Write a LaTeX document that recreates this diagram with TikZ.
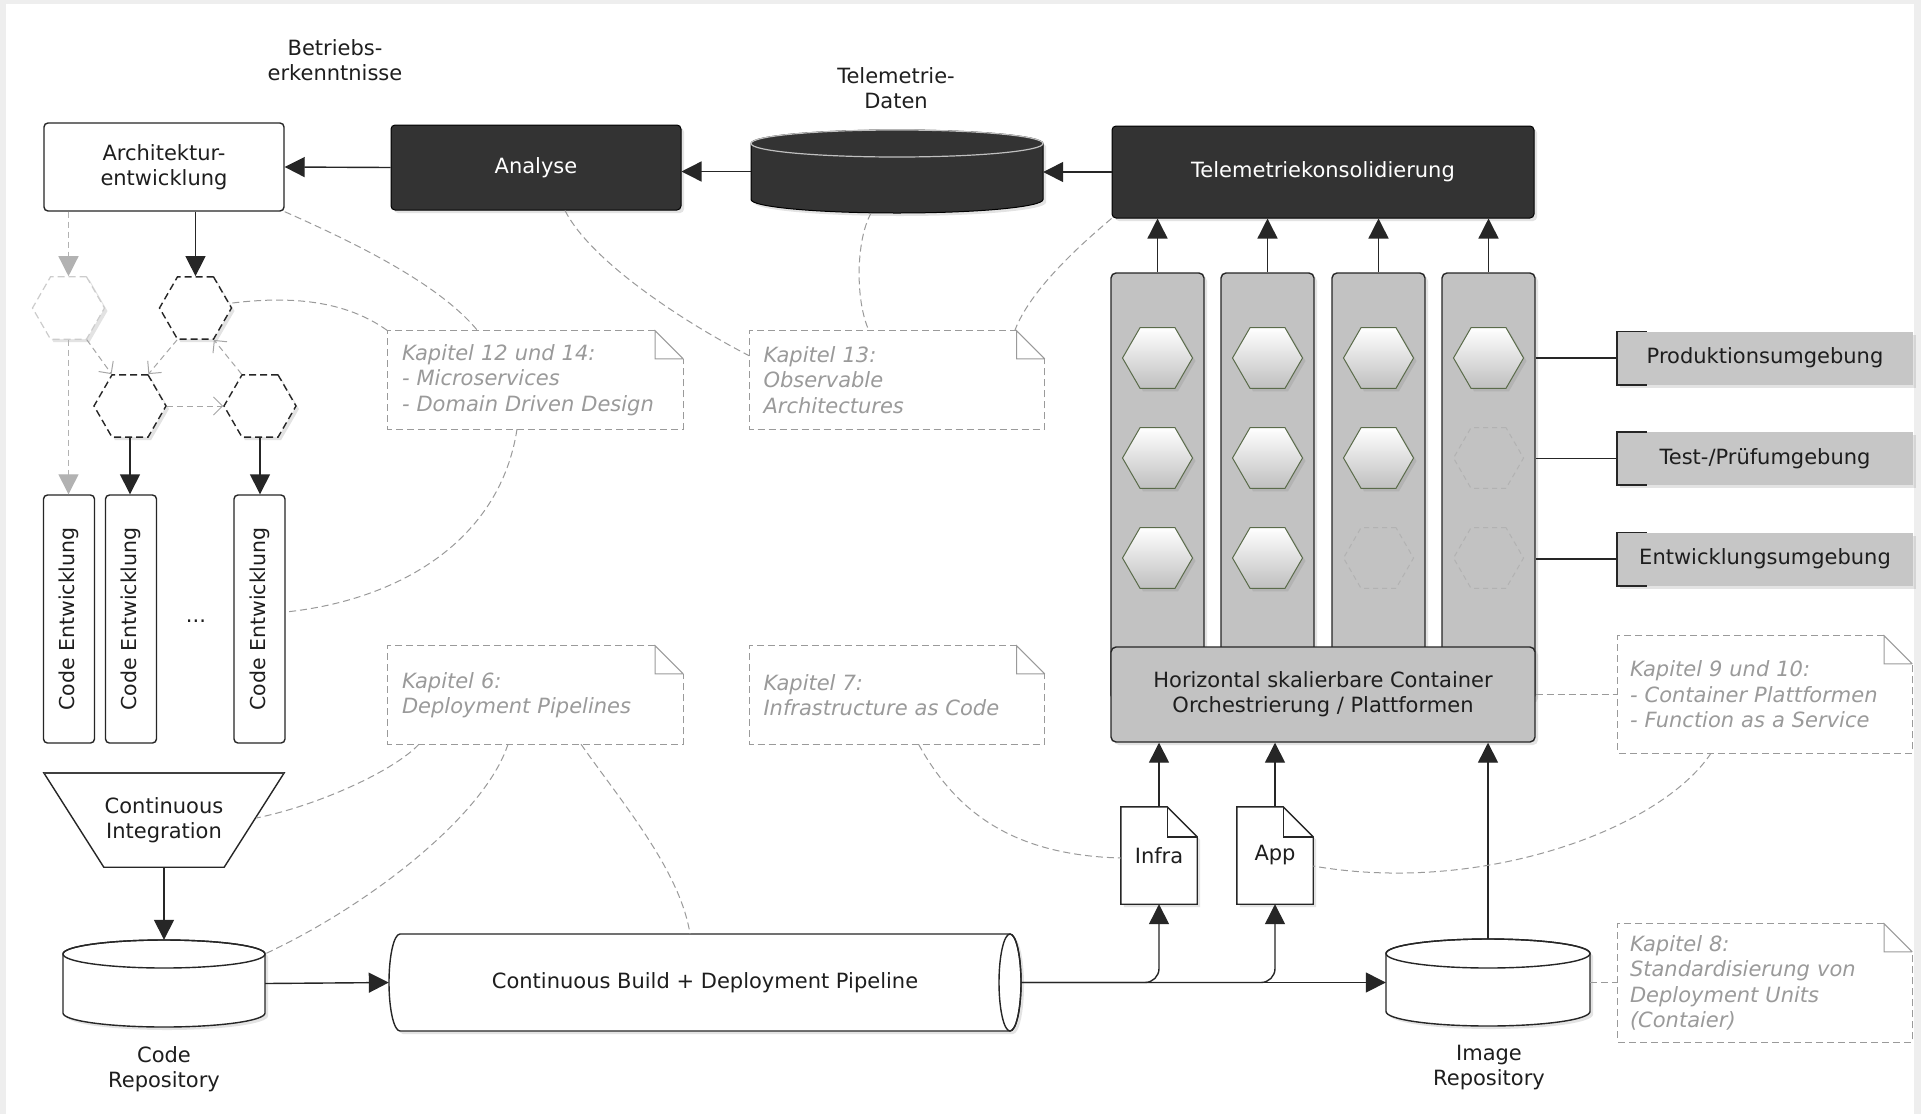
\documentclass[tikz,border=0pt]{standalone}
\usepackage{fontspec}
\setmainfont{DejaVu Sans}
\usetikzlibrary{arrows.meta,shapes.geometric,shadows,calc}
\pgfdeclarelayer{bottom}
\pgfdeclarelayer{background}
\pgfsetlayers{bottom,background,main}
\definecolor{dark}{HTML}{333333}
\definecolor{colgray}{HTML}{C2C2C2}
\definecolor{envgray}{HTML}{C6C6C6}
\definecolor{notegray}{HTML}{9A9A9A}
\definecolor{hexedge}{HTML}{5A6B4A}
\definecolor{framegray}{HTML}{EEEEEE}
\definecolor{txt}{HTML}{1E1E1E}
\tikzset{
  every node/.style={font=\fontsize{21}{25}\selectfont, text=txt},
  lbl/.style={align=center, inner sep=0pt},
  bare/.style={inner sep=0pt, align=center},
  sh/.style={drop shadow={opacity=0.22, shadow xshift=3pt, shadow yshift=-3pt}},
  wbox/.style={draw=black!85, line width=1.4pt, fill=white, rounded corners=4pt, align=center, inner sep=0pt},
  dbox/.style={draw=black, line width=1pt, fill=dark, text=white, rounded corners=4pt, align=center, inner sep=0pt, sh},
  colbox/.style={draw=black!85, line width=1.4pt, fill=colgray, rounded corners=5pt, inner sep=0pt, sh},
  envbox/.style={fill=envgray, inner sep=0pt, sh},
  stroke/.style={draw=black!85, line width=1.4pt},
  arr/.style={draw=black!85, line width=1.4pt, -{Triangle[length=20pt,width=20pt]}},
  ghostarr/.style={draw=black!30, line width=1.3pt, dash pattern=on 6pt off 4pt, -{Triangle[length=20pt,width=20pt]}},
  graylink/.style={draw=black!35, line width=1pt, dash pattern=on 6pt off 4pt, -{Straight Barb[length=9pt,width=18pt]}},
  refline/.style={draw=notegray, line width=1pt, dash pattern=on 7pt off 4pt},
  hexbase/.style={regular polygon, regular polygon sides=6, inner sep=0pt, minimum size=70pt},
  hexfull/.style={hexbase, draw=hexedge, line width=1pt, top color=white, bottom color=black!25, sh},
  hexempty/.style={hexbase, draw=black!30, line width=1pt, dash pattern=on 5pt off 4pt},
  hexdash/.style={hexbase, minimum size=72pt, draw=black!85, line width=1.4pt, dash pattern=on 7pt off 4pt, fill=white, sh},
  hexghost/.style={hexbase, minimum size=72pt, draw=black!20, line width=1.2pt, dash pattern=on 7pt off 4pt, fill=white, sh},
  notetxt/.style={inner sep=0pt, align=left, font=\fontsize{21}{25.5}\selectfont\itshape, text=notegray},
  cebox/.style={wbox, rotate=90, minimum width=248pt, minimum height=51pt, font=\fontsize{20.5}{24}\selectfont},
}
\newcommand\notedeco[1]{%
  \draw[refline] ([xshift=-28pt]#1.north east) -- (#1.north west) -- (#1.south west) -- (#1.south east) -- ([yshift=-28pt]#1.north east);
  \draw[draw=notegray, line width=1pt] ([yshift=-28pt]#1.north east) -- ([xshift=-28pt]#1.north east) -- ([xshift=-28pt,yshift=-28pt]#1.north east) -- ([yshift=-28pt]#1.north east);
}
\newcommand\docdeco[1]{%
  \filldraw[stroke, fill=white, sh] (#1.north west) -- ([xshift=-30pt]#1.north east) -- ([yshift=-30pt]#1.north east) -- (#1.south east) -- (#1.south west) -- cycle;
  \draw[stroke] ([xshift=-30pt]#1.north east) -- ([xshift=-30pt,yshift=-30pt]#1.north east) -- ([yshift=-30pt]#1.north east);
}
\begin{document}
\begin{tikzpicture}[x=1pt,y=-1pt]
\begin{pgfonlayer}{bottom}
  \fill[framegray] (0,0) rectangle (1921,1114);
  \fill[white] (6,4) rectangle (1914,1114);
\end{pgfonlayer}
\useasboundingbox (0,0) rectangle (1921,1114);

% ---------- top row ----------
\node[lbl] (betrieb) at (335,60) {Betriebs-\\erkenntnisse};
\node[lbl] (teledaten) at (896,88) {Telemetrie-\\Daten};
\node[wbox, minimum width=240pt, minimum height=88pt] (arch) at (164,167) {Architektur-\\entwicklung};
\node[dbox, minimum width=290pt, minimum height=85pt] (analyse) at (536,167.5) {Analyse};
\node[bare, minimum width=292pt, minimum height=83pt] (telecyl) at (897,171.5) {};
\node[dbox, minimum width=422pt, minimum height=92pt] (tele) at (1323,172) {Telemetriekonsolidierung};

\begin{pgfonlayer}{background}
  \filldraw[fill=dark, draw=black, line width=1pt, sh] (751,143.5) -- (751,199.5)
    arc[start angle=180, end angle=360, x radius=146pt, y radius=13.5pt] -- (1043,143.5)
    arc[start angle=0, end angle=180, x radius=146pt, y radius=13.5pt] -- cycle;
  \draw[draw=black!25, line width=1.2pt] (897,143.5) ellipse[x radius=146pt, y radius=13.5pt];
\end{pgfonlayer}

% ---------- columns ----------
\foreach \i/\x in {1/1157.5,2/1267.5,3/1378.5,4/1488.5}
  \node[colbox, minimum width=93pt, minimum height=427pt] (c\i) at (\x,486.5) {};
\node[hexfull] (h11) at (1157.5,358) {};
\node[hexfull] (h12) at (1157.5,458) {};
\node[hexfull] (h13) at (1157.5,558) {};
\node[hexfull] (h21) at (1267.5,358) {};
\node[hexfull] (h22) at (1267.5,458) {};
\node[hexfull] (h23) at (1267.5,558) {};
\node[hexfull] (h31) at (1378.5,358) {};
\node[hexfull] (h32) at (1378.5,458) {};
\node[hexempty] (h33) at (1378.5,558) {};
\node[hexfull] (h41) at (1488.5,358) {};
\node[hexempty] (h42) at (1488.5,458) {};
\node[hexempty] (h43) at (1488.5,558) {};
\node[colbox, align=center, minimum width=424pt, minimum height=95pt] (plat) at (1323,694.5) {Horizontal skalierbare Container\\Orchestrierung / Plattformen};

% ---------- environments ----------
\node[envbox, minimum width=296pt, minimum height=53pt] (prod) at (1765,358) {Produktionsumgebung};
\node[envbox, minimum width=296pt, minimum height=53pt] (test) at (1765,458.5) {Test-/Prüfumgebung};
\node[envbox, minimum width=296pt, minimum height=53pt] (entw) at (1765,559) {Entwicklungsumgebung};
\foreach \e in {prod,test,entw}{
  \draw[draw=black!85, line width=1.6pt] ([xshift=30pt]\e.north west) -- (\e.north west) -- (\e.south west) -- ([xshift=30pt]\e.south west);
  \draw[stroke] (c4.east |- \e.west) -- (\e.west);
}

% ---------- left side ----------
\node[hexghost] (hg) at (68.5,308) {};
\node[hexdash] (ha) at (195.5,308) {};
\node[hexdash] (hb) at (130,406) {};
\node[hexdash] (hc) at (260,406) {};
\node[cebox] (ce1) at (69,619) {Code Entwicklung};
\node[cebox] (ce2) at (131,619) {Code Entwicklung};
\node[cebox] (ce3) at (259.5,619) {Code Entwicklung};
\node[lbl] (dots) at (196,621) {...};
\node[bare, minimum width=240pt, minimum height=94pt] (ci) at (164,820) {Continuous\\Integration};
\begin{pgfonlayer}{background}
  \filldraw[stroke, fill=white] (ci.north west) -- (ci.north east) -- ([xshift=-60pt]ci.south east) -- ([xshift=60pt]ci.south west) -- cycle;
  \draw[draw=black!75, line width=2.6pt] (ci.north west) -- (ci.north east);
\end{pgfonlayer}

% ---------- bottom row ----------
\node[bare, minimum width=202pt, minimum height=87pt] (coderepo) at (164,983.5) {};
\node[lbl] (crlabel) at (164,1069) {Code\\Repository};
\node[bare, minimum width=632pt, minimum height=97pt] (pipe) at (705,982.5) {Continuous Build + Deployment Pipeline};
\node[bare, minimum width=204pt, minimum height=87pt] (imgrepo) at (1488,982.5) {};
\node[lbl] (irlabel) at (1489,1068) {Image\\Repository};
\node[bare, minimum width=76pt, minimum height=97pt] (infra) at (1159,855.5) {Infra};
\node[bare, minimum width=76pt, minimum height=97pt] (app) at (1275,855.5) {App};
\begin{pgfonlayer}{background}
  \filldraw[stroke, fill=white, sh] (63,954) -- (63,1013)
    arc[start angle=180, end angle=360, x radius=101pt, y radius=14pt] -- (265,954)
    arc[start angle=0, end angle=180, x radius=101pt, y radius=14pt] -- cycle;
  \draw[stroke] (164,954) ellipse[x radius=101pt, y radius=14pt];
  \filldraw[stroke, fill=white, sh] (400,934) -- (1010,934)
    arc[start angle=90, end angle=-90, x radius=11pt, y radius=48.5pt] -- (400,1031)
    arc[start angle=270, end angle=90, x radius=11pt, y radius=48.5pt] -- cycle;
  \draw[stroke] (1010,982.5) ellipse[x radius=11pt, y radius=48.5pt];
  \filldraw[stroke, fill=white, sh] (1386,953.5) -- (1386,1011.5)
    arc[start angle=180, end angle=360, x radius=102pt, y radius=14.5pt] -- (1590,953.5)
    arc[start angle=0, end angle=180, x radius=102pt, y radius=14.5pt] -- cycle;
  \draw[stroke] (1488,953.5) ellipse[x radius=102pt, y radius=14.5pt];
  \docdeco{infra}
  \docdeco{app}
\end{pgfonlayer}

% ---------- notes ----------
\node[notetxt, minimum width=295pt, minimum height=98pt, text width=267pt] (k12) at (535.5,380) {Kapitel 12 und 14:\\- Microservices\\- Domain Driven Design};
\node[notetxt, minimum width=295pt, minimum height=98pt, text width=267pt] (k13) at (897,380) {Kapitel 13:\\Observable\\Architectures};
\node[notetxt, minimum width=295pt, minimum height=98pt, text width=267pt] (k6) at (535.5,695) {Kapitel 6:\\Deployment Pipelines};
\node[notetxt, minimum width=295pt, minimum height=98pt, text width=267pt] (k7) at (897,695) {Kapitel 7:\\Infrastructure as Code};
\node[notetxt, minimum width=294pt, minimum height=117pt, text width=270pt] (k910) at (1765,694.5) {Kapitel 9 und 10:\\- Container Plattformen\\- Function as a Service};
\node[notetxt, minimum width=294pt, minimum height=118pt, text width=270pt] (k8) at (1765,983) {Kapitel 8:\\Standardisierung von\\Deployment Units\\(Contaier)};
\notedeco{k12}
\notedeco{k13}
\notedeco{k6}
\notedeco{k7}
\notedeco{k910}
\notedeco{k8}

% ---------- connectors ----------
\draw[arr] (analyse.west) -- (arch.east);
\draw[arr] (telecyl.west) -- (telecyl.west -| analyse.east);
\draw[arr] (tele.west) -- (tele.west -| telecyl.east);
\foreach \i in {1,...,4} \draw[arr] (c\i.north) -- (c\i.north |- tele.south);
\draw[arr] (infra.north) -- (infra.north |- plat.south);
\draw[arr] (app.north) -- (app.north |- plat.south);
\draw[arr] (imgrepo.north) -- (imgrepo.north |- plat.south);
\draw[arr] (pipe.east) -- (imgrepo.west);
\draw[arr, rounded corners=14pt] (pipe.east) -| (infra.south);
\draw[arr, rounded corners=14pt] (pipe.east) -| (app.south);
\draw[arr] (coderepo.east) -- (pipe.west);
\draw[arr] (ci.south) -- (coderepo.north);
\draw[arr] (arch.south -| ha.north) -- (ha.north);
\draw[ghostarr] (arch.south -| hg.north) -- (hg.north);
\draw[ghostarr] (hg.south) -- (hg.south |- ce1.east);
\draw[arr] (hb.south) -- (hb.south |- ce2.east);
\draw[arr] (hc.south) -- (hc.south |- ce3.east);
\draw[graylink] (hg.-60) -- (hb.120);
\draw[graylink] (ha.-120) -- (hb.60);
\draw[graylink] (hc.120) -- (ha.-60);
\draw[graylink] (hb.east) -- (hc.west);

% ---------- reference curves ----------
\draw[refline] (arch.south east) .. controls (360,245) and (440,285) .. ([xshift=90pt]k12.north west);
\draw[refline] ([xshift=29pt]analyse.south) .. controls (590,260) and (680,320) .. ([yshift=-25pt]k13.north west);
\draw[refline] ([yshift=5pt]ha.east) .. controls (290,296) and (345,300) .. (k12.north west);
\draw[refline] ([xshift=-18.5pt]k12.south) .. controls (500,540) and (400,600) .. ([yshift=7pt]ce3.south);
\draw[refline] ([xshift=-26pt]telecyl.south) .. controls (856,240) and (855,300) .. ([xshift=-28pt]k13.north);
\draw[refline] (tele.south west) .. controls (1080,245) and (1030,290) .. ([xshift=-30pt]k13.north east);
\draw[refline] ([xshift=-116.5pt]k6.south) .. controls (395,770) and (320,805) .. ([xshift=-28pt,yshift=2pt]ci.east);
\draw[refline] ([xshift=-27.5pt]k6.south) .. controls (485,815) and (370,905) .. ([yshift=-14pt]coderepo.north east);
\draw[refline] ([xshift=45.5pt]k6.south) .. controls (620,800) and (680,870) .. ([xshift=-15pt]pipe.north);
\draw[refline] ([xshift=21.5pt]k7.south) .. controls (955,810) and (1010,855) .. ([yshift=-2.5pt]infra.west);
\draw[refline] ([xshift=-54pt]k910.south) .. controls (1660,830) and (1480,895) .. ([yshift=-10.5pt]app.east);
\draw[refline] (plat.east) -- (plat.east -| k910.west);
\draw[refline] (imgrepo.east) -- (imgrepo.east -| k8.west);
\end{tikzpicture}
\end{document}
